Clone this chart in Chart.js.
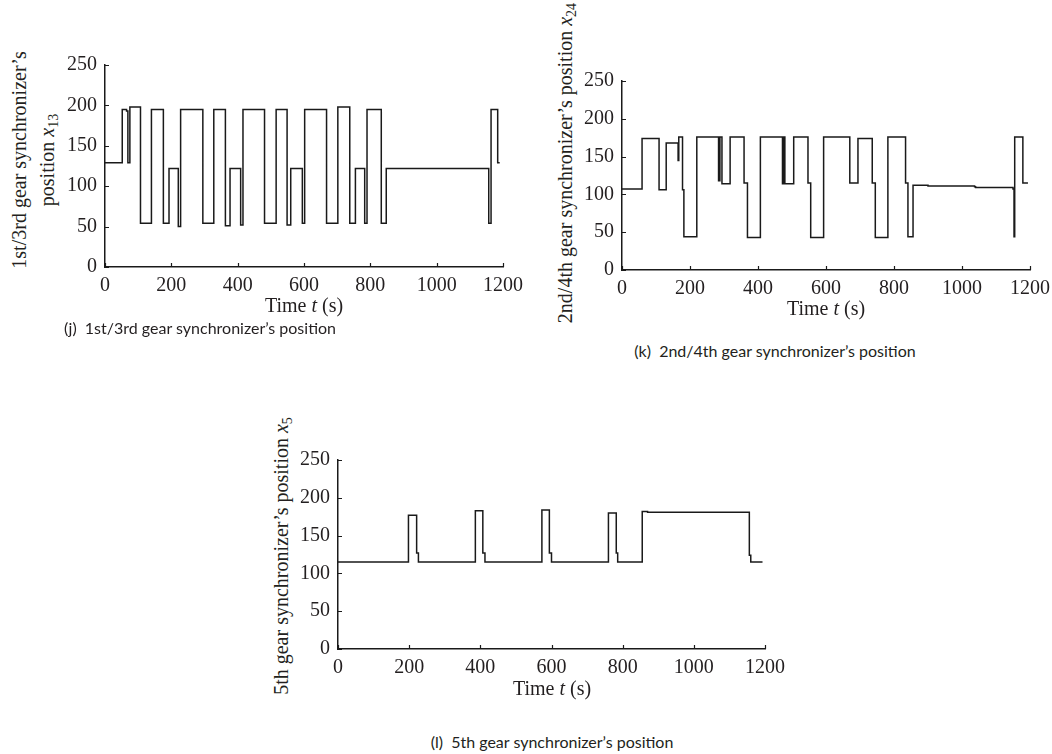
<!DOCTYPE html>
<html>
<head>
<meta charset="utf-8">
<script src="https://cdn.jsdelivr.net/npm/chart.js@4.4.1/dist/chart.umd.min.js"></script>
<style>
  body { margin: 0; background: #fff; width: 1052px; height: 754px; position: relative; overflow: hidden; }
  canvas { position: absolute; }
  .lbl { position: absolute; font-family: "Liberation Serif", "DejaVu Serif", serif; font-size: 20px; color: #231f20; white-space: nowrap; transform: translate(-50%, -50%); line-height: 28px; text-align: center; }
  .rot { transform: translate(-50%, -50%) rotate(-90deg); }
  .cap { position: absolute; font-family: Lato, "Liberation Sans", sans-serif; font-size: 16px; color: #231f20; white-space: nowrap; transform: translate(-50%, -50%); }
  sub { font-size: 70%; vertical-align: -0.3em; line-height: 0; }
</style>
</head>
<body>
<canvas id="chartJ" width="463" height="250" style="left:65px; top:50px"></canvas>
<canvas id="chartK" width="468" height="237" style="left:582px; top:66px"></canvas>
<canvas id="chartL" width="494" height="237" style="left:298px; top:445px"></canvas>

<div class="lbl rot" style="left:33px; top:160px">1st/3rd gear synchronizer’s<br>position <i>x</i><sub>13</sub></div>
<div class="lbl" style="left:304px; top:305px">Time <i>t</i> (s)</div>
<div class="cap" style="left:200px; top:327px">(j)&nbsp; 1st/3rd gear synchronizer’s position</div>

<div class="lbl rot" style="left:565px; top:163px">2nd/4th gear synchronizer’s position <i>x</i><sub>24</sub></div>
<div class="lbl" style="left:826px; top:308px">Time <i>t</i> (s)</div>
<div class="cap" style="left:775px; top:350px">(k)&nbsp; 2nd/4th gear synchronizer’s position</div>

<div class="lbl rot" style="left:281px; top:556px">5th gear synchronizer’s position <i>x</i><sub>5</sub></div>
<div class="lbl" style="left:552px; top:688px">Time <i>t</i> (s)</div>
<div class="cap" style="left:552px; top:741px">(l)&nbsp; 5th gear synchronizer’s position</div>

<script>
// Axis ticks shared by all three panels
const timeTicks = [0, 200, 400, 600, 800, 1000, 1200];
const posTicks = [0, 50, 100, 150, 200, 250];

// Synchronizer positions: each value holds from its time until the next time
const x13Times = [0, 52, 65, 69, 75, 107, 140, 176, 193, 221, 228, 295, 328, 363, 377, 409, 416, 481, 516, 549, 560, 595, 602, 668, 702, 738, 755, 783, 790, 833, 848, 1157, 1164, 1184, 1190];
const x13Values = [129, 195, 193, 129, 198, 54, 195, 54, 122, 50, 195, 54, 195, 51, 122, 52, 195, 54, 195, 52, 122, 54, 195, 54, 198, 54, 122, 54, 195, 54, 122, 54, 195, 129, 129];

const x24Times = [0, 59, 109, 130, 165, 167, 178, 182, 220, 284, 288, 294, 318, 359, 369, 407, 472, 476, 479, 505, 547, 555, 593, 670, 694, 736, 745, 782, 834, 841, 856, 900, 1037, 1040, 1150, 1153, 1155, 1179, 1194];
const x24Values = [107, 174, 106, 168, 145, 176, 106, 44, 176, 118, 176, 114, 176, 115, 43, 176, 114, 176, 114, 176, 115, 43, 176, 115, 174, 115, 43, 176, 115, 44, 112, 111, 110, 109, 107, 44, 176, 115, 115];

const x5Times = [0, 198, 221, 226, 386, 407, 413, 573, 594, 600, 760, 782, 786, 855, 870, 1156, 1160, 1193];
const x5Values = [115, 177, 127, 115, 183, 127, 115, 184, 127, 115, 180, 127, 115, 182, 181, 124, 115, 115];

const INK = '#1a1a1a';
const TEXT = '#231f20';
const tickFont = { family: '"Liberation Serif", "DejaVu Serif", serif', size: 20 };

// short tick marks pointing into the plot
const innerTicks = {
  id: 'innerTicks',
  afterDraw(chart) {
    const { ctx, scales: { x, y } } = chart;
    ctx.save();
    ctx.strokeStyle = INK;
    ctx.lineWidth = 1.2;
    ctx.beginPath();
    x.ticks.forEach(t => {
      const px = Math.round(x.getPixelForValue(t.value)) + 0.5;
      ctx.moveTo(px, x.top);
      ctx.lineTo(px, x.top - 4);
    });
    y.ticks.forEach(t => {
      const py = Math.round(y.getPixelForValue(t.value)) + 0.5;
      ctx.moveTo(y.right, py);
      ctx.lineTo(y.right + 4, py);
    });
    ctx.stroke();
    ctx.restore();
  }
};

function buildPoints(times, values) {
  return times.map((t, i) => ({ x: t, y: values[i] }));
}

function positionChart(canvasId, times, values, padRight, padTop) {
  const ctx = document.getElementById(canvasId);
  return new Chart(ctx.getContext('2d'), {
    type: 'line',
    data: {
      datasets: [{
        data: buildPoints(times, values),
        stepped: true,
        borderColor: INK,
        borderWidth: 1.5,
        pointRadius: 0,
        fill: false
      }]
    },
    options: {
      responsive: false,
      animation: false,
      events: [],
      layout: { padding: { left: 0, right: padRight, top: padTop, bottom: 0 } },
      plugins: {
        legend: { display: false },
        tooltip: { enabled: false }
      },
      scales: {
        x: {
          type: 'linear',
          min: 0,
          max: 1200,
          afterBuildTicks: scale => { scale.ticks = timeTicks.map(v => ({ value: v })); },
          afterFit: scale => { scale.height = 33; scale.paddingLeft = 0; scale.paddingRight = 0; },
          grid: { drawOnChartArea: false, drawTicks: false },
          border: { color: INK, width: 1.5 },
          ticks: { font: tickFont, color: TEXT, padding: 7, maxRotation: 0, autoSkip: false, callback: v => String(v) }
        },
        y: {
          min: 0,
          max: 250,
          afterBuildTicks: scale => { scale.ticks = posTicks.map(v => ({ value: v })); },
          afterFit: scale => { scale.width = 40; scale.paddingTop = 0; scale.paddingBottom = 0; },
          grid: { drawOnChartArea: false, drawTicks: false },
          border: { color: INK, width: 1.5 },
          ticks: { font: tickFont, color: TEXT, padding: 8, autoSkip: false, callback: v => String(v) }
        }
      }
    },
    plugins: [innerTicks]
  });
}

positionChart('chartJ', x13Times, x13Values, 25, 15);
positionChart('chartK', x24Times, x24Values, 20, 15);
positionChart('chartL', x5Times, x5Values, 27, 15);
</script>
</body>
</html>
